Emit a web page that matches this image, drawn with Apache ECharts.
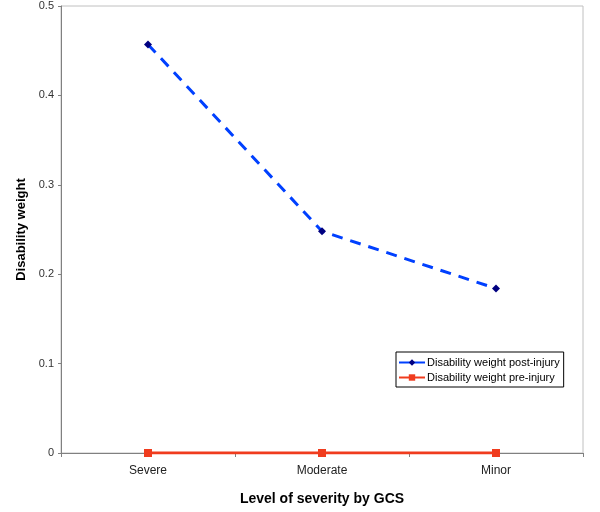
<!DOCTYPE html>
<html>
<head>
<meta charset="utf-8">
<script src="https://cdn.jsdelivr.net/npm/echarts@6/dist/echarts.min.js"></script>
<style>html,body{margin:0;padding:0;background:#fff}#c{width:600px;height:512px}</style>
</head>
<body>
<div id="c"></div>
<script>
const categories = ['Severe', 'Moderate', 'Minor'];
const postInjury = [0.457, 0.248, 0.184];
const preInjury = [0, 0, 0];
const yTicks = [0, 0.1, 0.2, 0.3, 0.4, 0.5];

const chart = echarts.init(document.getElementById('c'));
const font = 'Liberation Sans, Arial, sans-serif';
chart.setOption({
  animation: false,
  textStyle: { fontFamily: font },
  grid: { left: 61, right: 17, top: 6, bottom: 59, show: true, borderColor: '#c0c0c0', borderWidth: 1, backgroundColor: 'transparent' },
  xAxis: {
    type: 'category',
    data: categories,
    boundaryGap: true,
    name: 'Level of severity by GCS',
    nameLocation: 'middle',
    nameGap: 39,
    nameTextStyle: { fontFamily: font, fontSize: 14, fontWeight: 'bold', color: '#000' },
    axisLine: { lineStyle: { color: '#808080', width: 1 } },
    axisTick: { show: true, length: 4, lineStyle: { color: '#808080' } },
    axisLabel: { fontFamily: font, fontSize: 12, color: '#222', margin: 12 },
    splitLine: { show: false }
  },
  yAxis: {
    type: 'value',
    min: 0, max: 0.5, interval: 0.1,
    name: 'Disability weight',
    nameLocation: 'middle',
    nameGap: 32,
    nameTextStyle: { fontFamily: font, fontSize: 13, fontWeight: 'bold', color: '#000' },
    axisLine: { show: true, lineStyle: { color: '#808080', width: 1 } },
    axisTick: { show: true, length: 3, lineStyle: { color: '#808080' } },
    axisLabel: { fontFamily: font, fontSize: 11, color: '#333', margin: 7,
      formatter: v => { const t = yTicks.find(x => Math.abs(x - v) < 1e-9); return t === undefined ? '' : String(t); } },
    splitLine: { show: false }
  },
  legend: {
    orient: 'vertical',
    left: 396, top: 352,
    padding: [5, 4, 4, 2],
    itemGap: 4,
    itemWidth: 26, itemHeight: 8,
    borderColor: '#000', borderWidth: 1,
    backgroundColor: '#fff',
    textStyle: { fontFamily: font, fontSize: 11, color: '#000', padding: [0, 0, 0, -3] },
    data: [
      { name: 'Disability weight post-injury', lineStyle: { type: 'solid' } },
      { name: 'Disability weight pre-injury' }
    ]
  },
  series: [
    {
      name: 'Disability weight post-injury',
      type: 'line',
      data: postInjury,
      symbol: 'diamond',
      symbolSize: 8,
      itemStyle: { color: '#000080' },
      lineStyle: { color: '#0040ff', width: 3, type: [11, 8] },
      z: 3
    },
    {
      name: 'Disability weight pre-injury',
      type: 'line',
      data: preInjury,
      symbol: 'rect',
      symbolSize: 8,
      itemStyle: { color: '#f03c1e' },
      lineStyle: { color: '#f03c1e', width: 3 },
      z: 4
    }
  ]
});
</script>
</body>
</html>
